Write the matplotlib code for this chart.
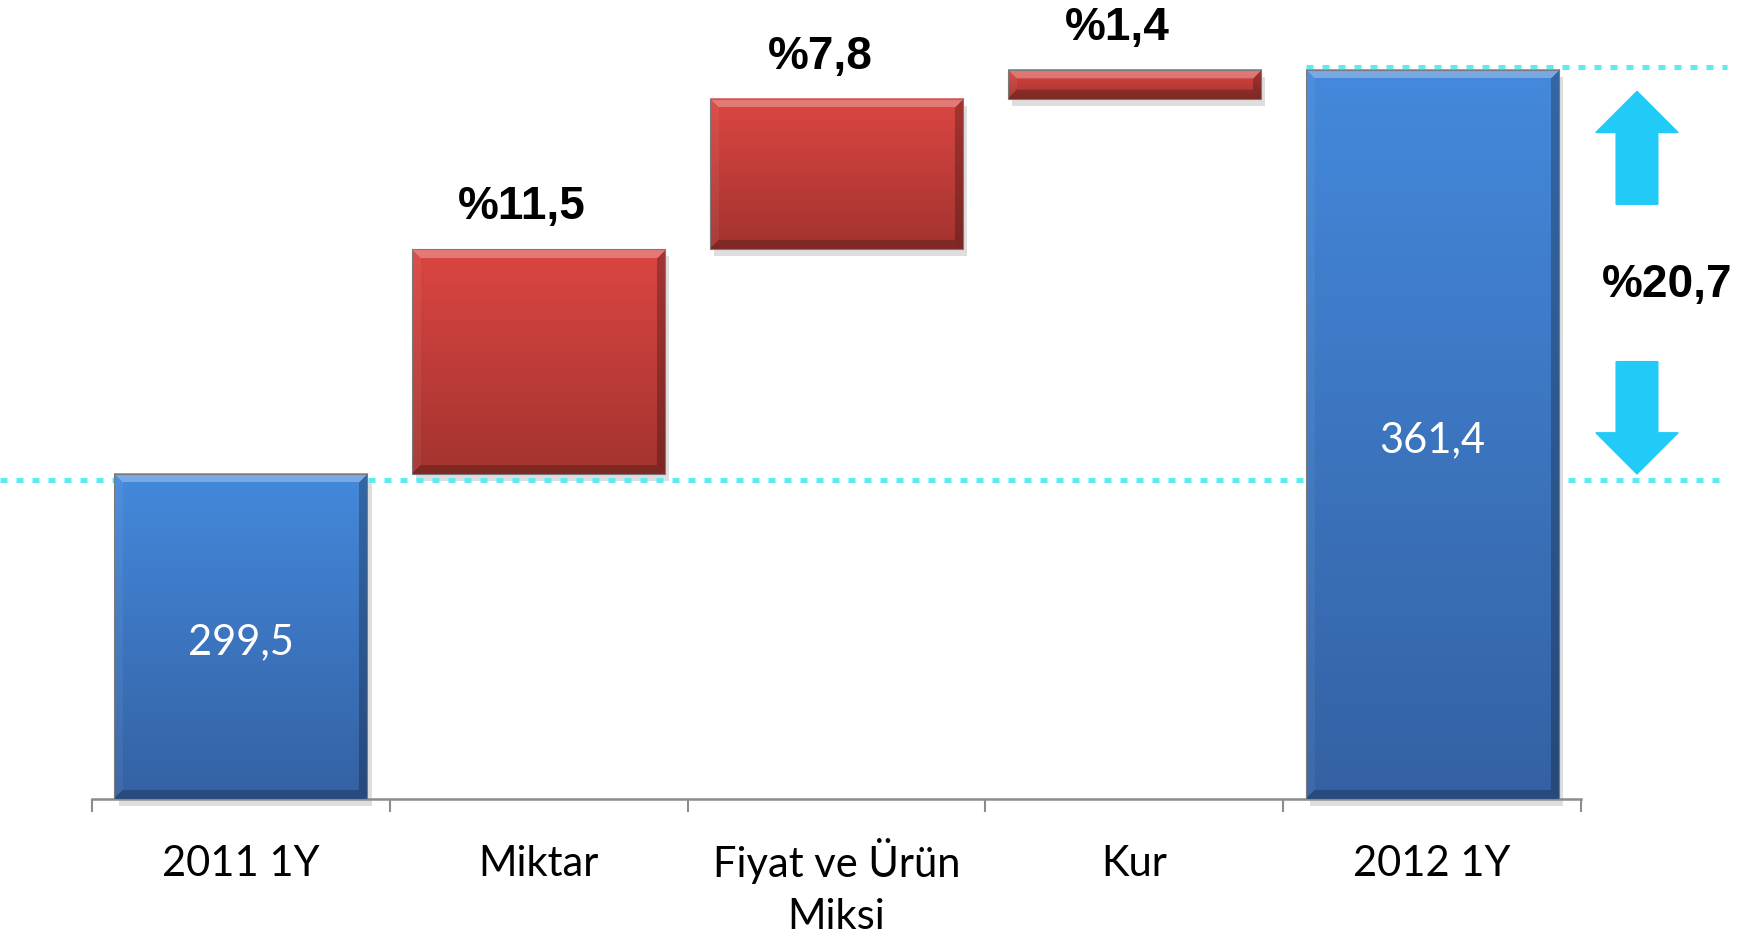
import matplotlib.pyplot as plt
import matplotlib.transforms as mtransforms
import numpy as np
from matplotlib.patches import Polygon, Rectangle
from matplotlib.colors import to_rgb

# veriler
kategoriler = ['2011 1Y', 'Miktar', 'Fiyat ve Ürün\nMiksi', 'Kur', '2012 1Y']
baslangic = 299.5
artislar = [34.4, 23.0, 4.5]
bitis = 361.4
yuzdeler = ['%11,5', '%7,8', '%1,4']
toplam_yuzde = '%20,7'
deger_etiketleri = ['299,5', '361,4']

ymin, ymax = 249.7, 372.1
gen = 0.85

mavi_ust, mavi_alt = '#4489DC', '#3461A3'
kirmizi_ust, kirmizi_alt = '#DB4642', '#A3332F'
camgobegi = '#5CEBF5'
ok_rengi = '#22CAF7'

fig = plt.figure(figsize=(17.54, 9.4), dpi=100)
ax = fig.add_axes([92/1754, 141/940, (1581-92)/1754, 799/940])
ax.set_xlim(-0.5, 4.5)
ax.set_ylim(ymin, ymax)

# kademeli barlar
altlar = [0, baslangic, baslangic + artislar[0], baslangic + artislar[0] + artislar[1], 0]
boylar = [baslangic, artislar[0], artislar[1], artislar[2], bitis]
renkler = [(mavi_ust, mavi_alt), (kirmizi_ust, kirmizi_alt), (kirmizi_ust, kirmizi_alt),
           (kirmizi_ust, kirmizi_alt), (mavi_ust, mavi_alt)]

x = np.arange(len(kategoriler))
bars = ax.bar(x, boylar, bottom=altlar, width=gen, color='none', edgecolor='none', zorder=3)
fig.canvas.draw()


def bevel_resim(w, h, ust, alt, b=9):
    ust = np.array(to_rgb(ust))
    alt = np.array(to_rgb(alt))
    t = np.linspace(0, 1, h).reshape(-1, 1, 1)
    img = ust * (1 - t) + alt * t
    img = np.repeat(img, w, axis=1)
    yy, xx = np.mgrid[0:h, 0:w]
    d = np.stack([yy, h - 1 - yy, xx, w - 1 - xx])
    en_yakin = d.argmin(axis=0)
    kenarda = d.min(axis=0) < b
    etki = [0.28, -0.22, 0.05, -0.25]  # ust, alt, sol, sag
    for i, e in enumerate(etki):
        m = kenarda & (en_yakin == i)
        if e > 0:
            img[m] = img[m] + (1 - img[m]) * e
        else:
            img[m] = img[m] * (1 + e)
    return np.clip(img, 0, 1)


golge_tr = ax.transData + mtransforms.ScaledTranslation(3/72, -5/72, fig.dpi_scale_trans)
for bar, (ust, alt) in zip(bars, renkler):
    bx, by = bar.get_x(), max(bar.get_y(), ymin)
    bw, bh = bar.get_width(), bar.get_y() + bar.get_height() - by
    p0 = ax.transData.transform((bx, by))
    p1 = ax.transData.transform((bx + bw, by + bh))
    wpx, hpx = int(round(p1[0] - p0[0])), int(round(p1[1] - p0[1]))
    img = bevel_resim(max(wpx, 2), max(hpx, 2), ust, alt)
    # golge
    ax.add_patch(Rectangle((bx, by), bw, bh, facecolor='#000000', alpha=0.13,
                           edgecolor='none', zorder=2, clip_on=False, transform=golge_tr))
    ax.imshow(img, extent=(bx, bx + bw, by, by + bh), aspect='auto', zorder=3,
              interpolation='bilinear')
    ax.add_patch(Rectangle((bx, by), bw, bh, fill=False, edgecolor='#7a7a7a', lw=0.8, zorder=4))

ax.set_xlim(-0.5, 4.5)
ax.set_ylim(ymin, ymax)

# kesikli cizgiler
alt_tr = ax.transData + mtransforms.ScaledTranslation(0, -4.3/72, fig.dpi_scale_trans)
ust_tr = ax.transData + mtransforms.ScaledTranslation(0, 1.7/72, fig.dpi_scale_trans)
ax.plot([-0.81, 4.99], [baslangic, baslangic], color=camgobegi, lw=3.6, transform=alt_tr,
        linestyle=(0, (1.4, 1.8)), dash_capstyle='butt', zorder=2.5, clip_on=False)
ax.plot([3.577, 4.99], [bitis, bitis], color=camgobegi, lw=3.6, transform=ust_tr,
        linestyle=(0, (1.4, 1.8)), dash_capstyle='butt', zorder=2.5, clip_on=False)

# deger etiketleri
for i, et in zip([0, 4], deger_etiketleri):
    b = bars[i]
    yy = (max(b.get_y(), ymin) + b.get_y() + b.get_height()) / 2
    ax.annotate(et, (i, yy), xytext=(0, -12.6), textcoords='offset points',
                color='white', fontsize=30, family='Lato',
                ha='center', va='baseline', zorder=5)

# yuzde etiketleri
for i, et in zip([1, 2, 3], yuzdeler):
    b = bars[i]
    ax.annotate(et, (i, b.get_y() + b.get_height()), xytext=(-12, 21.6),
                textcoords='offset points', ha='center', va='baseline',
                fontsize=33, fontweight='bold', family='Liberation Sans',
                annotation_clip=False)

# oklar
ox = 4.688
bas, sap = 0.138, 0.07
uc = bitis - 3.3
ax.add_patch(Polygon([(ox, uc), (ox + bas, uc - 6.3), (ox + sap, uc - 6.3), (ox + sap, uc - 17.3),
                      (ox - sap, uc - 17.3), (ox - sap, uc - 6.3), (ox - bas, uc - 6.3)],
                     closed=True, color=ok_rengi, clip_on=False, zorder=3))
uc = baslangic
ax.add_patch(Polygon([(ox, uc), (ox + bas, uc + 6.3), (ox + sap, uc + 6.3), (ox + sap, uc + 17.2),
                      (ox - sap, uc + 17.2), (ox - sap, uc + 6.3), (ox - bas, uc + 6.3)],
                     closed=True, color=ok_rengi, clip_on=False, zorder=3))
ax.annotate(toplam_yuzde, (4.789, (baslangic + bitis) / 2), xytext=(0, -18),
            textcoords='offset points', ha='center', va='baseline',
            fontsize=33, fontweight='bold', family='Liberation Sans', annotation_clip=False)

# eksenler
for s in ['top', 'right', 'left']:
    ax.spines[s].set_visible(False)
ax.spines['bottom'].set_color('#8c8c8c')
ax.spines['bottom'].set_linewidth(1.8)
ax.set_yticks([])
ax.set_xticks(x)
ax.set_xticklabels(kategoriler, fontsize=30, family='Lato', linespacing=1.45)
ax.set_xticks(np.arange(-0.5, 5, 1), minor=True)
ax.tick_params(axis='x', which='major', length=0, pad=33)
ax.tick_params(axis='x', which='minor', length=9.5, width=1.5, color='#8c8c8c', direction='out')
# iki satirli etiketi biraz yukari al
lbl = ax.get_xticklabels()[2]
lbl.set_transform(lbl.get_transform() + mtransforms.ScaledTranslation(0, 5/72, fig.dpi_scale_trans))

fig.savefig('out.png', dpi=100)
